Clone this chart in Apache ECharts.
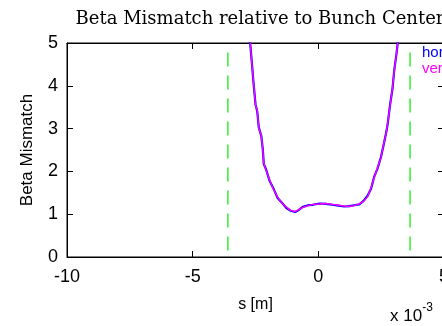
<!DOCTYPE html>
<html><head><meta charset="utf-8">
<script src="https://cdn.jsdelivr.net/npm/echarts@6/dist/echarts.min.js"></script>
<style>html,body{margin:0;padding:0;background:#fff}#c{width:442px;height:326px}</style>
</head><body><div id="c"></div>
<script>
// s positions in units of 1e-3 m
var sPos = [-2.95, -2.71, -2.65, -2.58, -2.50, -2.43, -2.37, -2.27, -2.21, -2.17, -2.08, -1.94, -1.80, -1.62, -1.45, -1.28, -1.10, -0.92, -0.80, -0.62, -0.40, -0.22, 0.05, 0.30, 0.55, 0.80, 1.03, 1.23, 1.43, 1.63, 1.80, 1.96, 2.10, 2.22, 2.35, 2.49, 2.59, 2.69, 2.75, 2.86, 2.95, 3.02, 3.11, 3.17, 3.35];
var horizontal = [5.8, 4.98, 4.58, 4.08, 3.57, 3.40, 3.03, 2.83, 2.52, 2.17, 2.05, 1.78, 1.62, 1.38, 1.27, 1.15, 1.08, 1.05, 1.09, 1.17, 1.21, 1.22, 1.25, 1.24, 1.22, 1.20, 1.18, 1.19, 1.21, 1.23, 1.31, 1.43, 1.60, 1.87, 2.06, 2.33, 2.60, 2.88, 3.07, 3.58, 3.93, 4.36, 4.75, 5.06, 5.8];
var vertical = [5.8, 5.00, 4.56, 4.10, 3.55, 3.43, 3.01, 2.85, 2.50, 2.19, 2.03, 1.80, 1.60, 1.40, 1.26, 1.17, 1.09, 1.06, 1.10, 1.16, 1.20, 1.23, 1.24, 1.25, 1.23, 1.21, 1.19, 1.18, 1.20, 1.24, 1.30, 1.41, 1.62, 1.85, 2.08, 2.31, 2.62, 2.86, 3.09, 3.56, 3.95, 4.34, 4.77, 5.04, 5.8];
var bunchEdges = [-3.6, 3.65];
var edgeSpan = [0.15, 4.85];
var xTicks = [-10, -5, 0, 5];
var yTicks = [0, 1, 2, 3, 4, 5];

function pairs(xs, ys){ return xs.map(function(x,i){return [x, ys[i]];}); }

var chart = echarts.init(document.getElementById('c'), null, {renderer:'canvas'});
function axisCommon(){ return {
  axisLine:{show:true, onZero:false, lineStyle:{color:'#000', width:1}},
  axisTick:{show:true, inside:true, length:6, lineStyle:{color:'#000'}},
  splitLine:{show:false}
};}
var series = [
  {type:'line', data:pairs(sPos, horizontal), showSymbol:false, lineStyle:{color:'#0000ff', width:2.2}, z:3},
  {type:'line', data:pairs(sPos, vertical), showSymbol:false, lineStyle:{color:'#ff00ff', width:1.4}, z:4}
];
bunchEdges.forEach(function(e){
  series.push({type:'line', data:[[e, edgeSpan[0]],[e, edgeSpan[1]]], showSymbol:false,
    lineStyle:{color:'#33ee33', width:1.5, type:[14,9]}, z:2});
});
chart.setOption({
  animation:false,
  title:{text:'Beta Mismatch relative to Bunch Center', left:255, top:5, textAlign:'center',
    textStyle:{fontFamily:'DejaVu Serif', fontWeight:'normal', fontSize:18, color:'#000'}},
  grid:{left:67, top:43, width:377, height:214, outerBoundsMode:'none', containLabel:false,
    show:true, borderColor:'#000', borderWidth:1},
  xAxis:[
    Object.assign({type:'value', min:xTicks[0], max:xTicks[xTicks.length-1], interval:5, position:'bottom',
      name:'s [m]', nameLocation:'middle', nameGap:40,
      nameTextStyle:{fontFamily:'Liberation Sans', fontSize:16, color:'#000'},
      axisLabel:{fontFamily:'Liberation Sans', fontSize:18, color:'#000', margin:11}}, axisCommon()),
    Object.assign({type:'value', min:xTicks[0], max:xTicks[xTicks.length-1], interval:5, position:'top',
      axisLabel:{show:false}}, axisCommon())
  ],
  yAxis:[
    Object.assign({type:'value', min:yTicks[0], max:yTicks[yTicks.length-1], interval:1, position:'left',
      name:'Beta Mismatch', nameLocation:'middle', nameGap:31, nameRotate:90,
      nameTextStyle:{fontFamily:'Liberation Sans', fontSize:17, color:'#000'},
      axisLabel:{fontFamily:'Liberation Sans', fontSize:18, color:'#000', margin:9}}, axisCommon()),
    Object.assign({type:'value', min:yTicks[0], max:yTicks[yTicks.length-1], interval:1, position:'right',
      axisLabel:{show:false}}, axisCommon())
  ],
  series:series,
  graphic:[
    {type:'text', left:422, top:45, style:{text:'horizontal', fill:'#0000ff', font:'15px "Liberation Sans"'}},
    {type:'text', left:422, top:61, style:{text:'vertical', fill:'#ff00ff', font:'15px "Liberation Sans"'}},
    {type:'text', left:390, top:302, style:{rich:{a:{fontSize:17, fontFamily:'Liberation Sans', fill:'#000', padding:[6,0,0,0]}, b:{fontSize:12, fontFamily:'Liberation Sans', fill:'#000', verticalAlign:'top'}}, text:'{a|x 10}{b|-3}'}}
  ]
});
</script></body></html>
